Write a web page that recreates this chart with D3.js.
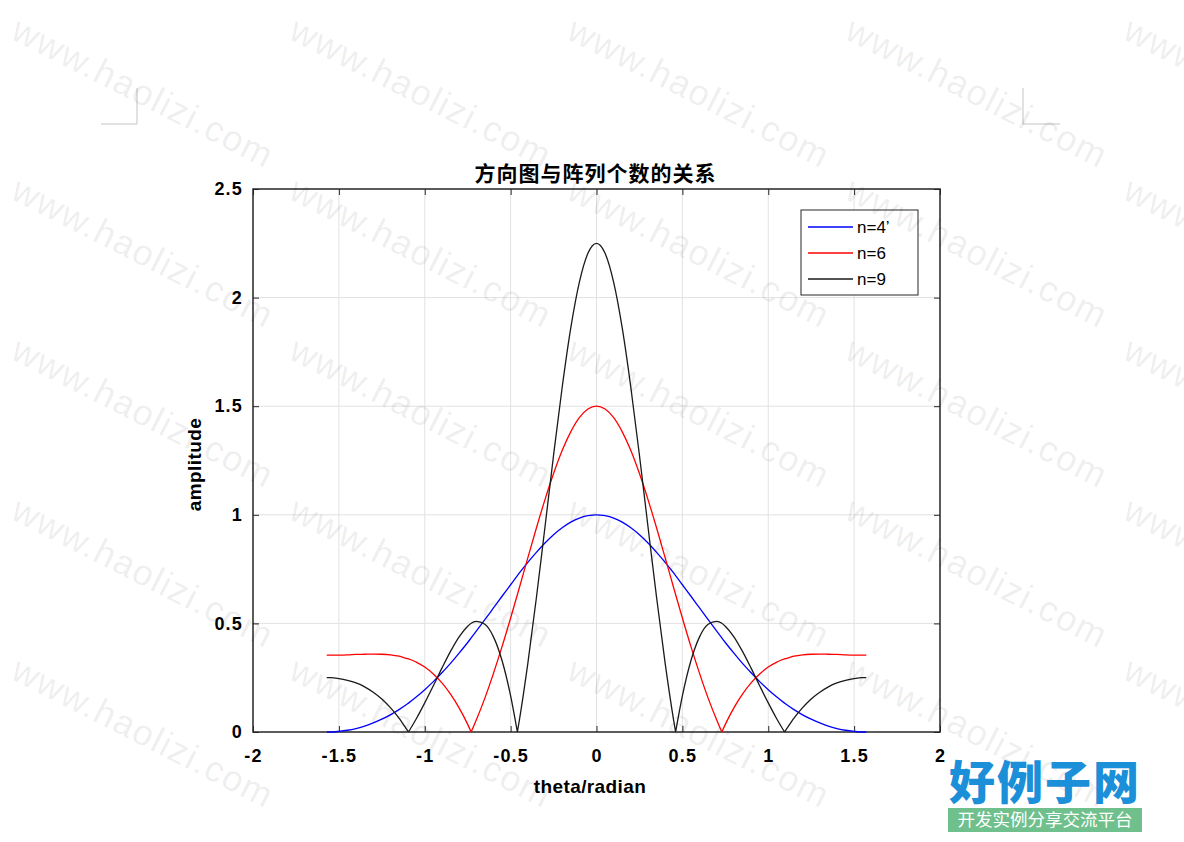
<!DOCTYPE html>
<html>
  <head>
    <meta charset="utf-8">
    <title>方向图与阵列个数的关系</title>
    <script src="https://d3js.org/d3.v7.min.js" charset="utf-8"></script>
    <style>
      body{
        margin: 0;
        background: #fff;
      }
      svg {
        background-color: #fff;
        display: block;
      }
      .tick text{
        font-family: 'Liberation Sans', Arial, sans-serif;
        font-weight: 700;
        font-size: 18px;
        letter-spacing: 1.2px;
        fill: #000;
      }
      .tick line{
        stroke: #262626;
      }
      .domain{
        display: none;
      }
    </style>
  </head>
  <body>
    <div id="chart"></div>
    <script>

    //*****
    // data
    //*****

    var theta = [-1.5708, -1.55, -1.5, -1.45, -1.4, -1.35, -1.3, -1.25, -1.2, -1.15, -1.1, -1.0949, -1.05, -1, -0.95, -0.9, -0.85, -0.8, -0.75, -0.7297, -0.7, -0.65, -0.6, -0.55, -0.5, -0.4606, -0.45, -0.4, -0.35, -0.3, -0.25, -0.2, -0.15, -0.1, -0.05,
                 0,
                 0.05, 0.1, 0.15, 0.2, 0.25, 0.3, 0.35, 0.4, 0.45, 0.4606, 0.5, 0.55, 0.6, 0.65, 0.7, 0.7297, 0.75, 0.8, 0.85, 0.9, 0.95, 1, 1.05, 1.0949, 1.1, 1.15, 1.2, 1.25, 1.3, 1.35, 1.4, 1.45, 1.5, 1.55, 1.5708];

    var n4 = [0, 0, 0.003, 0.008, 0.016, 0.027, 0.042, 0.059, 0.079, 0.103, 0.130, 0.133, 0.161, 0.195, 0.232, 0.273, 0.316, 0.363, 0.412, 0.433, 0.464, 0.517, 0.571, 0.625, 0.678, 0.720, 0.731, 0.781, 0.827, 0.870, 0.908, 0.940, 0.966, 0.985, 0.996,
              1,
              0.996, 0.985, 0.966, 0.940, 0.908, 0.870, 0.827, 0.781, 0.731, 0.720, 0.678, 0.625, 0.571, 0.517, 0.464, 0.433, 0.412, 0.363, 0.316, 0.273, 0.232, 0.195, 0.161, 0.133, 0.130, 0.103, 0.079, 0.059, 0.042, 0.027, 0.016, 0.008, 0.003, 0, 0];

    var n6 = [0.354, 0.354, 0.354, 0.355, 0.357, 0.358, 0.359, 0.358, 0.355, 0.349, 0.338, 0.337, 0.322, 0.299, 0.267, 0.226, 0.174, 0.111, 0.035, 0, 0.055, 0.156, 0.270, 0.393, 0.525, 0.633, 0.662, 0.802, 0.939, 1.070, 1.190, 1.296, 1.382, 1.447, 1.487,
              1.5,
              1.487, 1.447, 1.382, 1.296, 1.190, 1.070, 0.939, 0.802, 0.662, 0.633, 0.525, 0.393, 0.270, 0.156, 0.055, 0, 0.035, 0.111, 0.174, 0.226, 0.267, 0.299, 0.322, 0.337, 0.338, 0.349, 0.355, 0.358, 0.359, 0.358, 0.357, 0.355, 0.354, 0.354, 0.354];

    var n9 = [0.250, 0.250, 0.246, 0.238, 0.226, 0.208, 0.183, 0.152, 0.112, 0.064, 0.006, 0, 0.060, 0.134, 0.213, 0.294, 0.371, 0.438, 0.487, 0.501, 0.509, 0.496, 0.438, 0.329, 0.166, 0, 0.050, 0.315, 0.618, 0.944, 1.274, 1.586, 1.859, 2.070, 2.204,
              2.25,
              2.204, 2.070, 1.859, 1.586, 1.274, 0.944, 0.618, 0.315, 0.050, 0, 0.166, 0.329, 0.438, 0.496, 0.509, 0.501, 0.487, 0.438, 0.371, 0.294, 0.213, 0.134, 0.060, 0, 0.006, 0.064, 0.112, 0.152, 0.183, 0.208, 0.226, 0.238, 0.246, 0.250, 0.250];

    var seriesNames = ["n=4\u2019", "n=6", "n=9"];
    var seriesColors = ["#0000ff", "#ff0000", "#1a1a1a"];
    var xTicks = [-2, -1.5, -1, -0.5, 0, 0.5, 1, 1.5, 2];
    var yTicks = [0, 0.5, 1, 1.5, 2, 2.5];

    var titleText = "方向图与阵列个数的关系";
    var xLabel = "theta/radian";
    var yLabel = "amplitude";

    //********************
    // setup, scales, etc.
    //********************

    var width = 1184,
        height = 842,
        margin = {
            top: 189,
            right: 244,
            bottom: 110,
            left: 253
        };

    var svg = d3.select("#chart").append("svg").attr("width", width).attr("height", height);

    var xScale = d3.scaleLinear().domain([-2, 2]).range([margin.left, width - margin.right]);
    var yScale = d3.scaleLinear().domain([0, 2.5]).range([height - margin.bottom, margin.top]);

    var plotW = xScale(2) - xScale(-2),
        plotH = yScale(0) - yScale(2.5);

    // page corner marks
    var marks = svg.append("g").attr("stroke", "#c4c4c4").attr("fill", "none");
    marks.append("path").attr("d", "M137,88V124H101");
    marks.append("path").attr("d", "M1023,88V124H1060");

    //*****
    // grid
    //*****

    var grid = svg.append("g").attr("stroke", "#e2e2e2").attr("stroke-width", 1);

    grid.selectAll("line.gx")
        .data(xTicks.slice(1, -1))
        .enter().append("line").attr("class", "gx")
        .attr("x1", d => xScale(d)).attr("x2", d => xScale(d))
        .attr("y1", yScale(0)).attr("y2", yScale(2.5));

    grid.selectAll("line.gy")
        .data(yTicks.slice(1, -1))
        .enter().append("line").attr("class", "gy")
        .attr("x1", xScale(-2)).attr("x2", xScale(2))
        .attr("y1", d => yScale(d)).attr("y2", d => yScale(d));

    //*****
    // axes
    //*****

    var plainNum = d => String(d); // keep the ascii hyphen for negatives

    svg.append("g").attr("class", "x-axis")
        .attr("transform", `translate(0, ${yScale(0)})`)
        .call(d3.axisBottom(xScale).tickValues(xTicks).tickSizeInner(-6).tickSizeOuter(0).tickPadding(17).tickFormat(plainNum));

    svg.append("g").attr("class", "x-axis-top")
        .attr("transform", `translate(0, ${yScale(2.5)})`)
        .call(d3.axisTop(xScale).tickValues(xTicks).tickSizeInner(-6).tickSizeOuter(0).tickFormat(""));

    svg.append("g").attr("class", "y-axis")
        .attr("transform", `translate(${xScale(-2)}, 0)`)
        .call(d3.axisLeft(yScale).tickValues(yTicks).tickSizeInner(-6).tickSizeOuter(0).tickPadding(10).tickFormat(plainNum));

    svg.append("g").attr("class", "y-axis-right")
        .attr("transform", `translate(${xScale(2)}, 0)`)
        .call(d3.axisRight(yScale).tickValues(yTicks).tickSizeInner(-6).tickSizeOuter(0).tickFormat(""));

    // axes box
    svg.append("rect")
        .attr("x", xScale(-2))
        .attr("y", yScale(2.5))
        .attr("width", plotW)
        .attr("height", plotH)
        .attr("fill", "none")
        .attr("stroke", "#262626")
        .attr("stroke-width", 1.5);

    //*******
    // curves
    //*******

    var allSeries = [n4, n6, n9];

    var line = d3.line()
        .x(d => xScale(d[0]))
        .y(d => yScale(d[1]))
        .curve(d3.curveMonotoneX);

    // break each curve at its nulls so the V-shaped dips stay sharp
    function curvePath(values) {
        var segs = [[]];
        values.forEach(function(v, i) {
            segs[segs.length - 1].push([theta[i], v]);
            if (v === 0 && i > 0 && i < values.length - 1 && values[i - 1] > 0 && values[i + 1] > 0) {
                segs.push([[theta[i], v]]);
            }
        });
        return segs.map(s => line(s)).join("");
    }

    svg.append("g").selectAll("path.curve")
        .data(allSeries)
        .enter().append("path")
        .attr("class", "curve")
        .attr("fill", "none")
        .attr("stroke", (d, i) => seriesColors[i])
        .attr("stroke-width", 1.3)
        .attr("stroke-linejoin", "round")
        .attr("d", curvePath);

    //*******
    // labels
    //*******

    svg.append("text")
       .attr("x", xScale(0) - 1)
       .attr("y", 181)
       .attr("text-anchor", "middle")
       .style("font-family", "'Noto Sans CJK SC', sans-serif")
       .style("font-size", "21px")
       .style("font-weight", 700)
       .style("letter-spacing", "1px")
       .text(titleText);

    svg.append("text")
       .attr("x", 590)
       .attr("y", 793)
       .attr("text-anchor", "middle")
       .style("font-family", "'Liberation Sans', Arial, sans-serif")
       .style("font-size", "19px")
       .style("font-weight", 700)
       .style("letter-spacing", "0.4px")
       .text(xLabel);

    svg.append("text")
       .attr("transform", `translate(201, ${yScale(1.25) + 4}) rotate(-90)`)
       .attr("text-anchor", "middle")
       .style("font-family", "'Liberation Sans', Arial, sans-serif")
       .style("font-size", "19px")
       .style("font-weight", 700)
       .style("letter-spacing", "0.4px")
       .text(yLabel);

    //*******
    // legend
    //*******

    var legend = svg.append("g").attr("transform", "translate(801,210)");

    legend.append("rect")
        .attr("width", 117)
        .attr("height", 85)
        .attr("fill", "#fff")
        .attr("stroke", "#262626")
        .attr("stroke-width", 1);

    legend.selectAll("line.legend")
        .data(seriesNames)
        .enter().append("line")
        .attr("class", "legend")
        .attr("x1", 7).attr("x2", 52)
        .attr("y1", (d, i) => 17 + i * 26)
        .attr("y2", (d, i) => 17 + i * 26)
        .attr("stroke", (d, i) => seriesColors[i])
        .attr("stroke-width", 1.3);

    legend.selectAll("text.legend")
        .data(seriesNames)
        .enter().append("text")
        .attr("class", "legend")
        .attr("x", 56)
        .attr("y", (d, i) => 23 + i * 26)
        .style("font-family", "'Liberation Sans', Arial, sans-serif")
        .style("font-size", "17px")
        .text(d => d);

    //**********
    // watermark
    //**********

    var wm = svg.append("g").attr("pointer-events", "none");
    var wmCols = [0, 1, 2, 3, 4];
    var wmRows = [0, 1, 2, 3, 4];

    wmRows.forEach(function(r) {
        wm.selectAll(null)
          .data(wmCols)
          .enter().append("text")
          .attr("transform", c => `translate(${9 + c * 278}, ${38 + r * 160}) rotate(27)`)
          .style("font-family", "'Liberation Sans', Arial, sans-serif")
          .style("font-size", "36px")
          .style("letter-spacing", "1.5px")
          .attr("fill", "#000")
          .attr("fill-opacity", 0.08)
          .text("www.haolizi.com");
    });

    // site logo
    var logo = svg.append("g").attr("transform", "translate(948,757)");

    logo.append("text")
        .attr("x", 97)
        .attr("y", 42)
        .attr("text-anchor", "middle")
        .attr("fill", "#1b8fd8")
        .style("font-family", "'Noto Sans CJK SC', sans-serif")
        .style("font-size", "46px")
        .style("font-weight", 900)
        .style("letter-spacing", "2px")
        .text("好例子网");

    logo.append("rect")
        .attr("x", 0)
        .attr("y", 51)
        .attr("width", 194)
        .attr("height", 24)
        .attr("fill", "#6fc08c");

    logo.append("text")
        .attr("x", 97)
        .attr("y", 69)
        .attr("text-anchor", "middle")
        .attr("fill", "#fff")
        .style("font-family", "'Noto Sans CJK SC', sans-serif")
        .style("font-size", "17.5px")
        .text("开发实例分享交流平台");

    </script>
  </body>
</html>
